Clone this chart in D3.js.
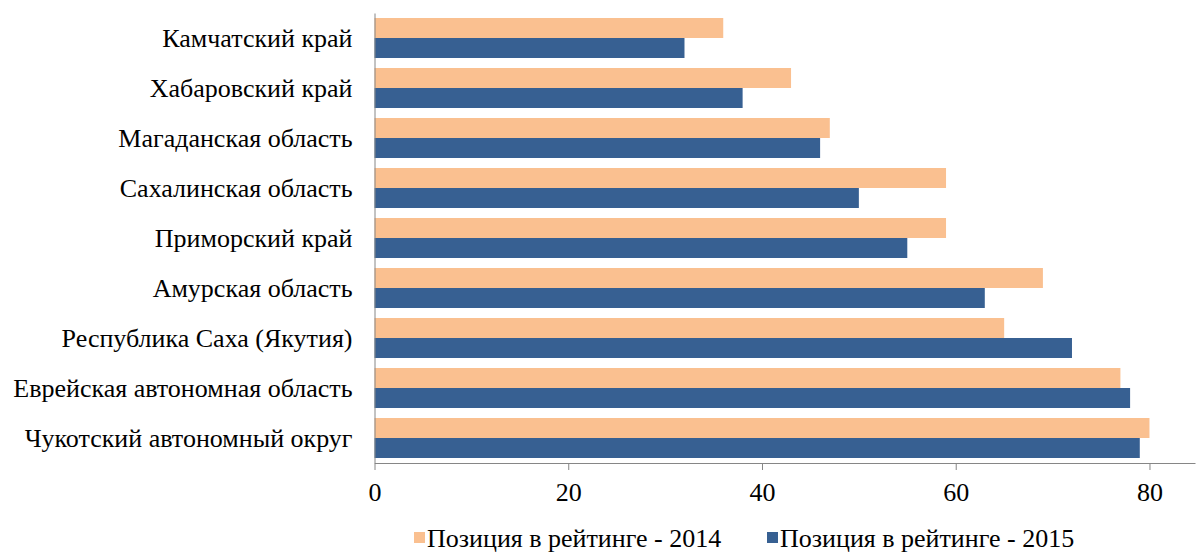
<!DOCTYPE html>
<html lang="en">
<head>
<meta charset="UTF-8">
<title>Позиция в рейтинге</title>
<script src="https://d3js.org/d3.v7.min.js"></script>
<style>
    body { margin: 0; background: #fff; }
    .axis path, .axis line { stroke: #868686; }
</style>
</head>
<body>
<svg id="chart"></svg>
<script>
    // regions, top to bottom
    var regions = [
        "Камчатский край",
        "Хабаровский край",
        "Магаданская область",
        "Сахалинская область",
        "Приморский край",
        "Амурская область",
        "Республика Саха (Якутия)",
        "Еврейская автономная область",
        "Чукотский автономный округ"
    ];
    var rank2014 = [36, 43, 47, 59, 59, 69, 65, 77, 80];
    var rank2015 = [32, 38, 46, 50, 55, 63, 72, 78, 79];
    var seriesNames = ["Позиция в рейтинге - 2014", "Позиция в рейтинге - 2015"];
    var colors = ["#FAC090", "#376092"];
    var xTicks = [0, 20, 40, 60, 80];

    var W = 1198, H = 553;
    var margin = { top: 13, right: 3, bottom: 90, left: 374.5 };
    var width = W - margin.left - margin.right;
    var height = H - margin.top - margin.bottom;
    // the browser default serif has Cyrillic serif glyphs, named families here don't
    var FONT = "Tinos";
    var FS = "26px";

    var svg = d3.select("#chart").attr("width", W).attr("height", H);
    var g = svg.append("g").attr("transform", "translate(" + margin.left + "," + margin.top + ")");

    var x = d3.scaleLinear().domain([0, 84.7]).range([0, width]);
    var y = d3.scaleBand().domain(regions).range([0, height]).paddingInner(0.2).paddingOuter(0.1);
    var y1 = d3.scaleBand().domain([0, 1]).range([0, y.bandwidth()]);

    var rows = regions.map((r, i) => ({ region: r, values: [rank2014[i], rank2015[i]] }));

    var grp = g.selectAll(".row").data(rows).enter().append("g")
        .attr("transform", d => "translate(0," + y(d.region) + ")");
    grp.selectAll("rect")
        .data(d => d.values)
        .enter().append("rect")
        .attr("x", 0)
        .attr("y", (d, i) => y1(i))
        .attr("width", d => x(d))
        .attr("height", y1.bandwidth())
        .attr("fill", (d, i) => colors[i]);

    // y axis (line only, labels on the left)
    var yAxis = g.append("g").attr("class", "axis")
        .call(d3.axisLeft(y).tickSize(0).tickPadding(22));
    yAxis.attr("font-family", FONT);
    yAxis.selectAll("text").style("font-family", FONT).style("font-size", FS).attr("dy", "0.35em");

    // x axis
    var xAxis = g.append("g").attr("class", "axis")
        .attr("transform", "translate(0," + height + ")")
        .call(d3.axisBottom(x).tickValues(xTicks).tickSize(7).tickSizeOuter(0).tickPadding(13));
    xAxis.attr("font-family", FONT);
    xAxis.selectAll("text").style("font-family", FONT).style("font-size", FS);

    // legend
    var legend = svg.append("g");
    var legendX = [414, 767];
    seriesNames.forEach((name, i) => {
        legend.append("rect")
            .attr("x", legendX[i]).attr("y", 532)
            .attr("width", 11).attr("height", 11)
            .attr("fill", colors[i]);
        legend.append("text")
            .attr("x", legendX[i] + 13).attr("y", 538)
            .attr("dy", "0.35em")
            .style("font-family", FONT)
            .style("font-size", FS)
            .text(name);
    });
</script>
</body>
</html>
